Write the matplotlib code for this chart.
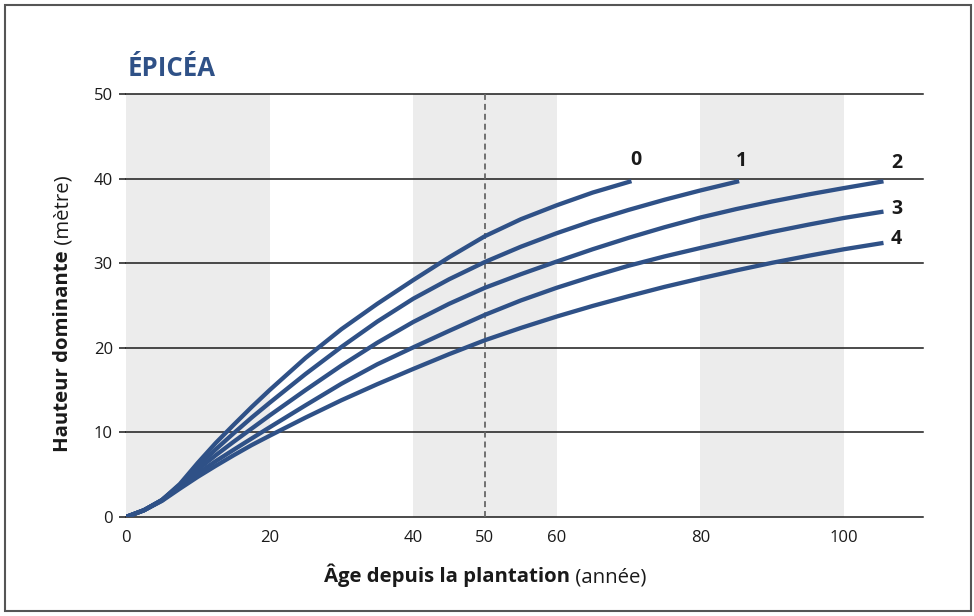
import matplotlib
matplotlib.use('Agg')
import matplotlib.pyplot as plt
from matplotlib.patches import Rectangle

plt.rcParams['font.family'] = ['Open Sans', 'DejaVu Sans']

# Age depuis la plantation (année) et hauteur dominante (m) pour chaque classe de fertilité
age_c0 = [0, 2.5, 5, 7.5, 10, 12.5, 15, 17.5, 20, 25, 30, 35, 40, 45, 50, 55, 60, 65, 70.4]
height_c0 = [0, 0.8, 2.0, 3.9, 6.4, 8.75, 10.9, 13.0, 15.0, 18.8, 22.2, 25.2, 28.0, 30.7, 33.2, 35.2, 36.85, 38.35, 39.7]

age_c1 = [0, 2.5, 5, 7.5, 10, 12.5, 15, 17.5, 20, 25, 30, 35, 40, 45, 50, 55, 60, 65, 70, 75, 80, 85.4]
height_c1 = [0, 0.8, 2.0, 3.8, 6.0, 8.0, 9.9, 11.75, 13.5, 16.9, 20.1, 23.1, 25.8, 28.1, 30.15, 31.95, 33.55, 35.0, 36.3, 37.5, 38.6, 39.7]

age_c2 = [0, 2.5, 5, 7.5, 10, 12.5, 15, 17.5, 20, 25, 30, 35, 40, 45, 50, 55, 60, 65, 70, 75, 80, 85, 90, 95, 100, 105.5]
height_c2 = [0, 0.8, 2.0, 3.7, 5.6, 7.3, 8.9, 10.45, 12.0, 15.0, 17.9, 20.6, 23.05, 25.2, 27.1, 28.7, 30.2, 31.65, 33.0, 34.25, 35.4, 36.4, 37.3, 38.12, 38.88, 39.68]

age_c3 = [0, 2.5, 5, 7.5, 10, 12.5, 15, 17.5, 20, 25, 30, 35, 40, 45, 50, 55, 60, 65, 70, 75, 80, 85, 90, 95, 100, 105.5]
height_c3 = [0, 0.8, 1.95, 3.55, 5.15, 6.6, 7.95, 9.28, 10.6, 13.2, 15.75, 18.05, 20.05, 22.0, 23.9, 25.6, 27.1, 28.45, 29.7, 30.8, 31.8, 32.77, 33.7, 34.55, 35.35, 36.1]

age_c4 = [0, 2.5, 5, 7.5, 10, 12.5, 15, 17.5, 20, 25, 30, 35, 40, 45, 50, 55, 60, 65, 70, 75, 80, 85, 90, 95, 100, 105.5]
height_c4 = [0, 0.8, 1.9, 3.35, 4.75, 6.05, 7.3, 8.5, 9.6, 11.75, 13.8, 15.7, 17.5, 19.25, 20.9, 22.35, 23.7, 24.95, 26.1, 27.2, 28.2, 29.15, 30.05, 30.87, 31.65, 32.4]

curve_labels = ['0', '1', '2', '3', '4']
x_ticks = [0, 20, 40, 50, 60, 80, 100]
y_ticks = [0, 10, 20, 30, 40, 50]
band_spans = [(0, 20), (40, 60), (80, 100)]

blue = '#2f5187'
ink = '#1a1a1a'

fig = plt.figure(figsize=(9.74, 6.16), dpi=100)
ax = fig.add_axes([126 / 974, 1 - 517 / 616, (923 - 126) / 974, (517 - 94) / 616])

# grey bands behind everything
for a, b in band_spans:
    ax.axvspan(a, b, color='#ececec', lw=0, zorder=0)

# horizontal lines at every y tick
for y in y_ticks:
    ax.axhline(y, color=ink, lw=1.1, zorder=1, clip_on=False)

ax.axvline(50, color='#666666', lw=1.3, ls=(0, (3.3, 2.2)), zorder=1)

ages = [age_c0, age_c1, age_c2, age_c3, age_c4]
heights = [height_c0, height_c1, height_c2, height_c3, height_c4]
# label offsets (points) from the curve ends
offsets = [(3.5, 15), (1.5, 14.5), (9.5, 13.5), (9.5, 2), (9.5, 3)]

for x, y, lab, off in zip(ages, heights, curve_labels, offsets):
    ax.plot(x, y, color=blue, lw=3.1, solid_capstyle='butt', solid_joinstyle='round', zorder=3)
    ax.annotate(lab, xy=(x[-1], y[-1]), xytext=off, textcoords='offset points',
                ha='center', va='center', fontsize=14, fontweight='bold', color=ink)

ax.set_xlim(0, (923 - 126) / 7.18)
ax.set_ylim(0, 50)
ax.set_xticks(x_ticks)
ax.set_yticks(y_ticks)
for s in ax.spines.values():
    s.set_visible(False)
ax.tick_params(axis='y', length=5, width=1.1, color=ink, pad=4.5, labelsize=12, labelcolor=ink)
ax.tick_params(axis='x', length=0, pad=9, labelsize=12, labelcolor=ink)

# title
fig.text(128 / 974, 1 - 76 / 616, 'ÉPICÉA', color=blue, fontsize=18.5, fontweight='bold',
         ha='left', va='baseline')

# axis labels with bold + normal parts
fig.canvas.draw()
r = fig.canvas.get_renderer()

xb = fig.text(0, 0, 'Âge depuis la plantation', fontsize=14.7, fontweight='bold', color=ink, va='baseline')
xn = fig.text(0, 0, ' (année)', fontsize=14.7, color=ink, va='baseline')
w1 = xb.get_window_extent(r).width
w2 = xn.get_window_extent(r).width
x0 = 485 - (w1 + w2) / 2
xb.set_position((x0 / 974, 1 - 582 / 616))
xn.set_position(((x0 + w1) / 974, 1 - 582 / 616))

yb = fig.text(0, 0, 'Hauteur dominante', fontsize=14.7, fontweight='bold', color=ink,
              rotation=90, rotation_mode='anchor', ha='left', va='baseline')
yn = fig.text(0, 0, ' (mètre)', fontsize=14.7, color=ink,
              rotation=90, rotation_mode='anchor', ha='left', va='baseline')
h1 = yb.get_window_extent(r).height
h2 = yn.get_window_extent(r).height
y0 = 314 + (h1 + h2) / 2
yb.set_position((68 / 974, 1 - y0 / 616))
yn.set_position((68 / 974, 1 - (y0 - h1) / 616))

# outer frame
fig.patches.append(Rectangle((4.5 / 974, 1 - 611 / 616), 966 / 974, 606.5 / 616,
                             transform=fig.transFigure, fill=False, ec='#555555', lw=1.5))

fig.savefig('out.png', dpi=100)
